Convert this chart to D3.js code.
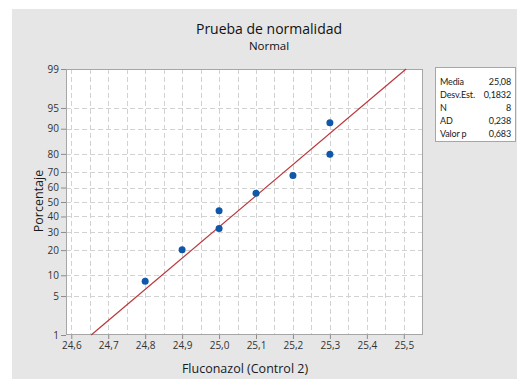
<!DOCTYPE html>
<html>
<head>
<meta charset="utf-8">
<script src="https://cdn.jsdelivr.net/npm/d3@7"></script>
<style>
  html, body { margin: 0; padding: 0; background: #ffffff; }
  svg { display: block; font-family: "Open Sans", "Noto Sans", sans-serif; }
</style>
</head>
<body>
<svg id="chart" width="517" height="379"></svg>
<script>
// Observed values (Fluconazol, Control 2) and their plotted percentages
const values = [24.8, 24.9, 25.0, 25.0, 25.1, 25.2, 25.3, 25.3];
const percents = [8.3, 20.2, 32.1, 44.0, 56.0, 67.9, 79.8, 91.7];

// Axis ticks
const xTicks = [24.6, 24.7, 24.8, 24.9, 25.0, 25.1, 25.2, 25.3, 25.4, 25.5];
const xGrid = [24.6, 24.65, 24.7, 24.75, 24.8, 24.85, 24.9, 24.95, 25.0, 25.05,
               25.1, 25.15, 25.2, 25.25, 25.3, 25.35, 25.4, 25.45, 25.5];
const yTicks = [1, 5, 10, 20, 30, 40, 50, 60, 70, 80, 90, 95, 99];

// Summary statistics
const statLabels = ["Media", "Desv.Est.", "N", "AD", "Valor p"];
const statValues = ["25,08", "0,1832", "8", "0,238", "0,683"];
const fitMean = 25.08;
const fitSd = 0.1832;

// Inverse standard normal CDF (Acklam)
function normInv(p) {
  const a = [-3.969683028665376e+01, 2.209460984245205e+02, -2.759285104469687e+02,
             1.383577518672690e+02, -3.066479806614716e+01, 2.506628277459239e+00];
  const b = [-5.447609879822406e+01, 1.615858368580409e+02, -1.556989798598866e+02,
             6.680131188771972e+01, -1.328068155288572e+01];
  const c = [-7.784894002430293e-03, -3.223964580411365e-01, -2.400758277161838e+00,
             -2.549732539343734e+00, 4.374664141464968e+00, 2.938163982698783e+00];
  const d = [7.784695709041462e-03, 3.224671290700398e-01, 2.445134137142996e+00,
             3.754408661907416e+00];
  const pl = 0.02425;
  let q, r;
  if (p < pl) {
    q = Math.sqrt(-2 * Math.log(p));
    return (((((c[0]*q+c[1])*q+c[2])*q+c[3])*q+c[4])*q+c[5]) /
           ((((d[0]*q+d[1])*q+d[2])*q+d[3])*q+1);
  } else if (p <= 1 - pl) {
    q = p - 0.5; r = q * q;
    return (((((a[0]*r+a[1])*r+a[2])*r+a[3])*r+a[4])*r+a[5])*q /
           (((((b[0]*r+b[1])*r+b[2])*r+b[3])*r+b[4])*r+1);
  } else {
    q = Math.sqrt(-2 * Math.log(1 - p));
    return -(((((c[0]*q+c[1])*q+c[2])*q+c[3])*q+c[4])*q+c[5]) /
            ((((d[0]*q+d[1])*q+d[2])*q+d[3])*q+1);
  }
}

const svg = d3.select("#chart");
const W = 517, H = 379;
const plot = { left: 66, top: 69, right: 423, bottom: 335 };

// Gray panel behind everything
svg.append("rect").attr("x", 12).attr("y", 9).attr("width", W - 12).attr("height", H - 9)
  .attr("fill", "#e6e6e6");

const x = d3.scaleLinear().domain([24.5857, 25.552]).range([plot.left, plot.right]);
const zScale = d3.scaleLinear().domain([normInv(0.01), normInv(0.99)]).range([plot.bottom, plot.top]);
const y = pct => zScale(normInv(pct / 100));

// Plot area
svg.append("rect").attr("x", plot.left).attr("y", plot.top)
  .attr("width", plot.right - plot.left).attr("height", plot.bottom - plot.top)
  .attr("fill", "#ffffff");

// Grid
const grid = svg.append("g").attr("stroke", "#d2d2d2").attr("stroke-width", 1)
  .attr("stroke-dasharray", "5,3");
grid.selectAll("line.vx").data(xGrid).join("line")
  .attr("x1", d => Math.round(x(d)) + 0.5).attr("x2", d => Math.round(x(d)) + 0.5)
  .attr("y1", plot.top).attr("y2", plot.bottom);
grid.selectAll("line.hy").data(yTicks.filter(d => d > 1 && d < 99)).join("line")
  .attr("x1", plot.left).attr("x2", plot.right)
  .attr("y1", d => Math.round(y(d)) + 0.5).attr("y2", d => Math.round(y(d)) + 0.5);

// Frame
svg.append("rect").attr("x", plot.left + 0.5).attr("y", plot.top + 0.5)
  .attr("width", plot.right - plot.left - 1).attr("height", plot.bottom - plot.top - 1)
  .attr("fill", "none").attr("stroke", "#a6a6a6");

// Axes
const fmt = d => d3.format(".1f")(d).replace(".", ",");
const xAxis = svg.append("g").attr("transform", `translate(0,${plot.bottom})`)
  .call(d3.axisBottom(x).tickValues(xTicks).tickFormat(fmt).tickSize(4).tickPadding(3));
const yAxis = svg.append("g").attr("transform", `translate(${plot.left},0)`)
  .call(d3.axisLeft(zScale).tickValues(yTicks.map(p => normInv(p / 100)))
    .tickFormat((d, i) => yTicks[i]).tickSize(5).tickPadding(2));
[xAxis, yAxis].forEach(a => {
  a.select(".domain").remove();
  a.selectAll(".tick line").attr("stroke", "#8c8c8c");
  a.selectAll(".tick text").attr("fill", "#333333").style("font-size", "10px")
    .style("font-family", "'Open Sans', sans-serif");
});

// Fitted normal line
const pEnds = [1, 99];
svg.append("line")
  .attr("x1", x(fitMean + fitSd * normInv(pEnds[0] / 100))).attr("y1", y(pEnds[0]))
  .attr("x2", x(fitMean + fitSd * normInv(pEnds[1] / 100))).attr("y2", y(pEnds[1]))
  .attr("stroke", "#b8373a").attr("stroke-width", 1.2);

// Points
svg.append("g").selectAll("circle").data(values).join("circle")
  .attr("cx", d => x(d)).attr("cy", (d, i) => y(percents[i])).attr("r", 3.5)
  .attr("fill", "#0f57a8");

// Titles
svg.append("text").attr("x", 269).attr("y", 34).attr("text-anchor", "middle")
  .style("font-size", "14px").style("font-weight", 500).attr("fill", "#111111").text("Prueba de normalidad");
svg.append("text").attr("x", 269).attr("y", 50).attr("text-anchor", "middle")
  .style("font-size", "11.5px").attr("fill", "#111111").text("Normal");
svg.append("text").attr("x", 245).attr("y", 373).attr("text-anchor", "middle")
  .style("font-size", "12.5px").attr("fill", "#1a1a1a").text("Fluconazol (Control 2)");
svg.append("text").attr("transform", "translate(43,201) rotate(-90)").attr("text-anchor", "middle")
  .style("font-size", "12.5px").attr("fill", "#1a1a1a").text("Porcentaje");

// Statistics box
const box = svg.append("g").style("font-family", "Lato, 'Open Sans', sans-serif")
  .style("letter-spacing", "-0.15px");
box.append("rect").attr("x", 435.5).attr("y", 67.5).attr("width", 80).attr("height", 74)
  .attr("fill", "#ffffff").attr("stroke", "#a6a6a6");
statLabels.forEach((lab, i) => {
  const yy = 85 + i * 13;
  box.append("text").attr("x", 440).attr("y", yy).style("font-size", "9px")
    .attr("fill", "#1a1a1a").text(lab);
  box.append("text").attr("x", 511).attr("y", yy).attr("text-anchor", "end")
    .style("font-size", "9px").attr("fill", "#1a1a1a").text(statValues[i]);
});
</script>
</body>
</html>
